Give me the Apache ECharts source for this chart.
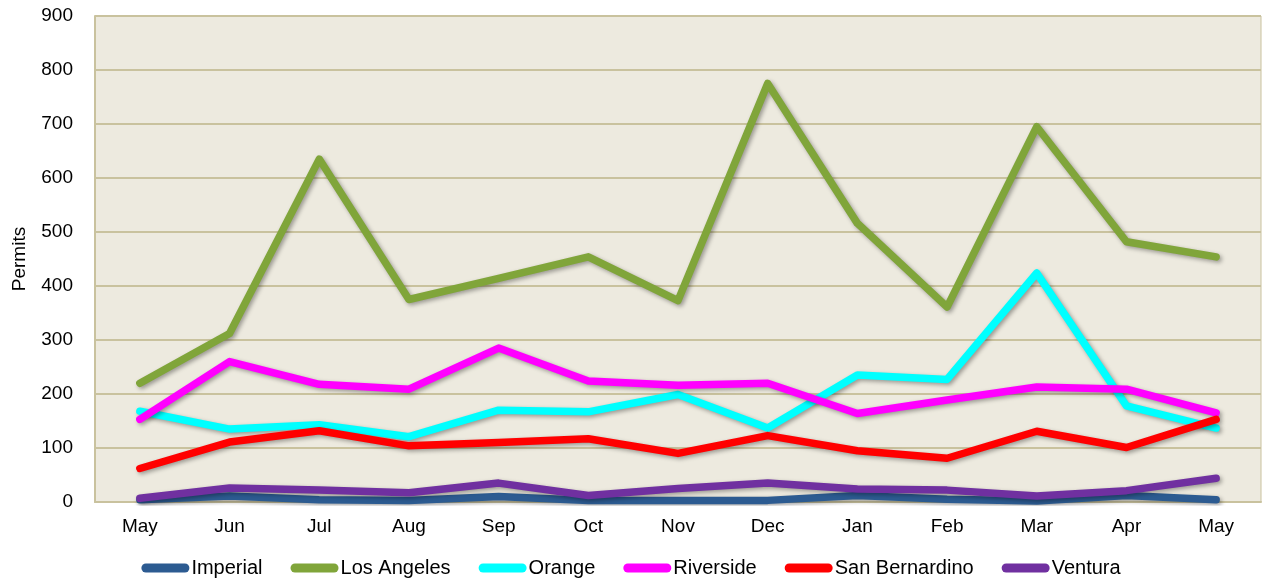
<!DOCTYPE html>
<html>
<head>
<meta charset="utf-8">
<title>Permits by County</title>
<script src="https://cdn.jsdelivr.net/npm/echarts@6/dist/echarts.min.js"></script>
<style>
  html, body { margin: 0; padding: 0; background: #ffffff; }
  #chart { width: 1262px; height: 583px; }
</style>
</head>
<body>
<div id="chart"></div>
<script>
// Monthly permits by county
const months = ['May', 'Jun', 'Jul', 'Aug', 'Sep', 'Oct', 'Nov', 'Dec', 'Jan', 'Feb', 'Mar', 'Apr', 'May'];

const imperial      = [4, 11, 4, 3, 10, 3, 3, 3, 12, 5, 2, 12, 4];
const losAngeles    = [220, 312, 635, 375, 414, 454, 373, 775, 516, 361, 695, 482, 454];
const orange        = [168, 135, 143, 121, 170, 167, 199, 137, 235, 227, 424, 178, 137];
const riverside     = [153, 260, 218, 209, 285, 224, 216, 220, 164, 189, 213, 209, 165];
const sanBernardino = [62, 111, 132, 104, 110, 117, 90, 123, 95, 81, 131, 101, 153];
const ventura       = [7, 26, 22, 17, 35, 12, 25, 35, 24, 22, 11, 21, 44];

const yTicks = { min: 0, max: 900, interval: 100 };

const seriesDefs = [
  { name: 'Imperial',       data: imperial,      color: '#2C5B91' },
  { name: 'Los Angeles',    data: losAngeles,    color: '#80A53A' },
  { name: 'Orange',         data: orange,        color: '#00FFFF' },
  { name: 'Riverside',      data: riverside,     color: '#FF00FF' },
  { name: 'San Bernardino', data: sanBernardino, color: '#FF0000' },
  { name: 'Ventura',        data: ventura,       color: '#7030A0' }
];

// rounded bar used as the legend swatch
const capsule = 'path://M4.5,0 H43.5 A4.5,4.5 0 0 1 43.5,9 H4.5 A4.5,4.5 0 0 1 4.5,0 Z';
const font = '"Liberation Sans", Arial, sans-serif';

const chart = echarts.init(document.getElementById('chart'), null, { renderer: 'canvas' });

chart.setOption({
  animation: false,
  textStyle: { fontFamily: font },
  grid: {
    left: 95, right: 1, top: 16, bottom: 81,
    show: true,
    backgroundColor: '#EDEADF',
    borderColor: '#C9C29E',
    borderWidth: 1
  },
  legend: {
    bottom: 0,
    left: 'center',
    padding: 5,
    icon: capsule,
    itemWidth: 48,
    itemHeight: 9,
    itemGap: 28,
    textStyle: { fontFamily: font, fontSize: 20, color: '#000000', padding: [0, 0, 0, -3] },
    data: seriesDefs.map(s => s.name)
  },
  xAxis: {
    type: 'category',
    data: months,
    boundaryGap: true,
    axisLine: { show: true, lineStyle: { color: '#C9C29E', width: 2 } },
    axisTick: { show: false },
    axisLabel: { color: '#000000', fontSize: 19, margin: 15, fontFamily: font, interval: 0 },
    splitLine: { show: false }
  },
  yAxis: {
    type: 'value',
    min: yTicks.min,
    max: yTicks.max,
    interval: yTicks.interval,
    name: 'Permits',
    nameLocation: 'middle',
    nameGap: 66,
    nameRotate: 90,
    nameTextStyle: { color: '#000000', fontSize: 19, fontFamily: font },
    axisLine: { show: true, lineStyle: { color: '#C9C29E', width: 2 } },
    axisTick: { show: false },
    axisLabel: { color: '#000000', fontSize: 19, margin: 22, fontFamily: font },
    splitLine: { show: true, lineStyle: { color: '#C9C29E', width: 2 } }
  },
  series: seriesDefs.map(s => ({
    name: s.name,
    type: 'line',
    data: s.data,
    showSymbol: false,
    symbol: 'none',
    color: s.color,
    itemStyle: { color: s.color },
    lineStyle: {
      color: s.color,
      width: 7.5,
      cap: 'round',
      join: 'round',
      shadowColor: 'rgba(0,0,0,0.35)',
      shadowBlur: 4,
      shadowOffsetX: 2,
      shadowOffsetY: 2
    },
    emphasis: { disabled: true }
  }))
});
</script>
</body>
</html>
